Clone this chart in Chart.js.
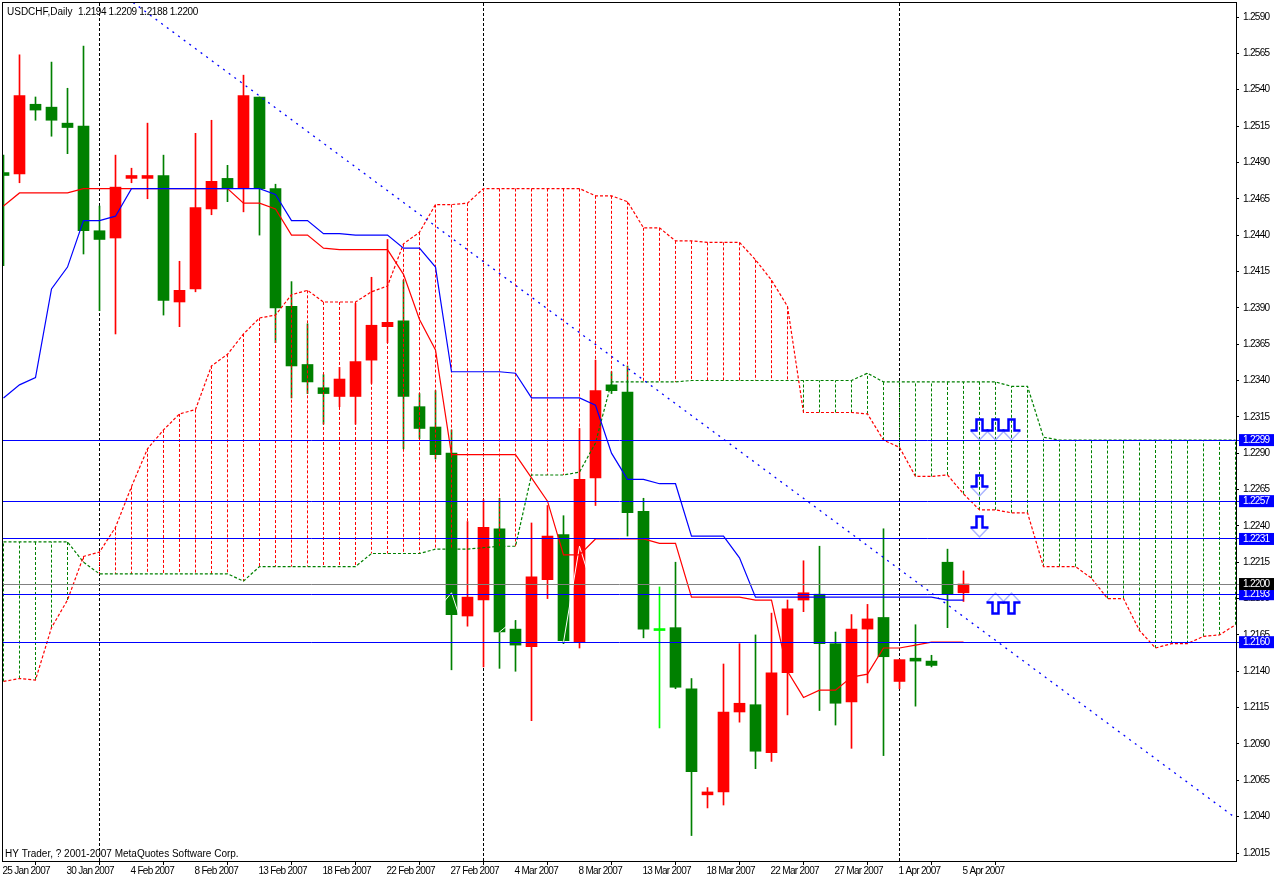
<!DOCTYPE html>
<html>
<head>
<meta charset="utf-8">
<title>USDCHF Daily</title>
<script src="https://cdn.jsdelivr.net/npm/chart.js@4"></script>
<style>
  html, body { margin: 0; background: #fff; }
  canvas { display: block; }
</style>
</head>
<body>
<canvas id="myChart" width="1274" height="878"></canvas>
<script>
// ***** Data *****
const symbolName = 'USDCHF,Daily';
const copyright = 'HY Trader, ? 2001-2007 MetaQuotes Software Corp.';

const dateLabels = ['25 Jan 2007', '30 Jan 2007', '4 Feb 2007', '8 Feb 2007', '13 Feb 2007', '18 Feb 2007', '22 Feb 2007', '27 Feb 2007',
  '4 Mar 2007', '8 Mar 2007', '13 Mar 2007', '18 Mar 2007', '22 Mar 2007', '27 Mar 2007', '1 Apr 2007', '5 Apr 2007'];
const priceTicks = [1.2590, 1.2565, 1.2540, 1.2515, 1.2490, 1.2465, 1.2440, 1.2415, 1.2390, 1.2365, 1.2340, 1.2315,
  1.2290, 1.2265, 1.2240, 1.2215, 1.2190, 1.2165, 1.2140, 1.2115, 1.2090, 1.2065, 1.2040, 1.2015];

const opens = [1.2483, 1.2482, 1.2530, 1.2528, 1.2517, 1.2515, 1.2443, 1.2438, 1.2479, 1.2479, 1.2481, 1.2394, 1.2403, 1.2458, 1.2479, 1.2472,
  1.2535, 1.2472, 1.2391, 1.2351, 1.2335, 1.2329, 1.2329, 1.2354, 1.2377, 1.2381, 1.2322, 1.2308, 1.2290, 1.2178, 1.2189, 1.2238,
  1.2169, 1.2157, 1.2203, 1.2234, 1.2160, 1.2273, 1.2337, 1.2332, 1.2250, 1.2168, 1.2170, 1.2128, 1.2055, 1.2057, 1.2112, 1.2117,
  1.2084, 1.2139, 1.2189, 1.2193, 1.2159, 1.2119, 1.2169, 1.2177, 1.2133, 1.2149, 1.2147, 1.2215, 1.2194];
const highs = [1.2495, 1.2564, 1.2535, 1.2559, 1.2541, 1.2570, 1.2460, 1.2495, 1.2486, 1.2517, 1.2495, 1.2422, 1.2510, 1.2519, 1.2488, 1.2550,
  1.2535, 1.2475, 1.2408, 1.2379, 1.2344, 1.2349, 1.2393, 1.2411, 1.2437, 1.2409, 1.2331, 1.2333, 1.2306, 1.2243, 1.2258, 1.2259,
  1.2175, 1.2242, 1.2254, 1.2247, 1.2307, 1.2354, 1.2346, 1.2350, 1.2259, 1.2198, 1.2215, 1.2135, 1.2060, 1.2145, 1.2159, 1.2165,
  1.2180, 1.2189, 1.2216, 1.2226, 1.2167, 1.2179, 1.2186, 1.2238, 1.2148, 1.2172, 1.2151, 1.2224, 1.2209];
const lows = [1.2419, 1.2476, 1.2519, 1.2508, 1.2496, 1.2427, 1.2388, 1.2372, 1.2476, 1.2465, 1.2385, 1.2377, 1.2401, 1.2454, 1.2463, 1.2456,
  1.2440, 1.2366, 1.2328, 1.2331, 1.2310, 1.2322, 1.2310, 1.2338, 1.2366, 1.2293, 1.2300, 1.2286, 1.2141, 1.2171, 1.2143, 1.2142,
  1.2140, 1.2106, 1.2190, 1.2159, 1.2156, 1.2254, 1.2331, 1.2233, 1.2163, 1.2101, 1.2128, 1.2027, 1.2046, 1.2048, 1.2105, 1.2073,
  1.2078, 1.2110, 1.2181, 1.2113, 1.2103, 1.2087, 1.2132, 1.2082, 1.2128, 1.2116, 1.2143, 1.2170, 1.2188];
const closes = [1.2481, 1.2536, 1.2526, 1.2519, 1.2514, 1.2443, 1.2437, 1.2473, 1.2481, 1.2481, 1.2395, 1.2402, 1.2459, 1.2477, 1.2472, 1.2536,
  1.2472, 1.2390, 1.2350, 1.2339, 1.2331, 1.2341, 1.2353, 1.2378, 1.2380, 1.2329, 1.2307, 1.2289, 1.2179, 1.2191, 1.2239, 1.2167,
  1.2158, 1.2205, 1.2233, 1.2161, 1.2272, 1.2333, 1.2333, 1.2249, 1.2169, 1.2168, 1.2129, 1.2071, 1.2057, 1.2112, 1.2118, 1.2085,
  1.2139, 1.2183, 1.2194, 1.2159, 1.2118, 1.2169, 1.2176, 1.2150, 1.2148, 1.2147, 1.2144, 1.2193, 1.2200];

const tenkan = [1.2460, 1.2469, 1.2469, 1.2469, 1.2469, 1.2472, 1.2472, 1.2472, 1.2472, 1.2472, 1.2472, 1.2472, 1.2472, 1.2472, 1.2472, 1.2462,
  1.2462, 1.2458, 1.2440, 1.2440, 1.2431, 1.2430, 1.2430, 1.2430, 1.2430, 1.2413, 1.2382, 1.2361, 1.2289, 1.2289, 1.2289, 1.2289,
  1.2289, 1.2273, 1.2257, 1.2220, 1.2220, 1.2231, 1.2231, 1.2231, 1.2231, 1.2228, 1.2228, 1.2191, 1.2191, 1.2191, 1.2191, 1.2189,
  1.2189, 1.2140, 1.2122, 1.2127, 1.2127, 1.2136, 1.2138, 1.2156, 1.2156, 1.2158, 1.2160, 1.2160, 1.2160];
const kijun = [1.2328, 1.2337, 1.2342, 1.2403, 1.2418, 1.2450, 1.2450, 1.2453, 1.2472, 1.2472, 1.2472, 1.2472, 1.2472, 1.2472, 1.2472, 1.2472,
  1.2472, 1.2468, 1.2450, 1.2450, 1.2441, 1.2441, 1.2440, 1.2440, 1.2440, 1.2431, 1.2431, 1.2418, 1.2346, 1.2346, 1.2346, 1.2346,
  1.2345, 1.2328, 1.2328, 1.2328, 1.2328, 1.2323, 1.2290, 1.2272, 1.2272, 1.2269, 1.2269, 1.2233, 1.2233, 1.2233, 1.2218, 1.2191,
  1.2191, 1.2191, 1.2191, 1.2191, 1.2191, 1.2191, 1.2191, 1.2191, 1.2191, 1.2191, 1.2191, 1.2189, 1.2189];
const spanA = [1.2133, 1.2135, 1.2134, 1.2170, 1.2189, 1.2219, 1.2222, 1.2239, 1.2267, 1.2293, 1.2306, 1.2317, 1.2320, 1.2350, 1.2358, 1.2372,
  1.2383, 1.2385, 1.2399, 1.2402, 1.2394, 1.2394, 1.2394, 1.2401, 1.2405, 1.2434, 1.2442, 1.2461, 1.2461, 1.2462, 1.2472, 1.2472,
  1.2472, 1.2472, 1.2472, 1.2472, 1.2472, 1.2467, 1.2467, 1.2463, 1.2445, 1.2445, 1.2436, 1.2436, 1.2435, 1.2435, 1.2435, 1.2423,
  1.2409, 1.2391, 1.2318, 1.2318, 1.2318, 1.2318, 1.2317, 1.2299, 1.2294, 1.2274, 1.2274, 1.2275, 1.2262, 1.2251, 1.2251, 1.2249,
  1.2249, 1.2212, 1.2212, 1.2212, 1.2204, 1.2190, 1.2190, 1.2168, 1.2156, 1.2159, 1.2159, 1.2164, 1.2165, 1.2172];
const spanB = [1.2229, 1.2229, 1.2229, 1.2229, 1.2229, 1.2215, 1.2207, 1.2207, 1.2207, 1.2207, 1.2207, 1.2207, 1.2207, 1.2207, 1.2207, 1.2202,
  1.2212, 1.2212, 1.2212, 1.2212, 1.2212, 1.2212, 1.2212, 1.2221, 1.2221, 1.2221, 1.2221, 1.2224, 1.2224, 1.2224, 1.2225, 1.2226,
  1.2226, 1.2275, 1.2275, 1.2275, 1.2277, 1.2297, 1.2339, 1.2339, 1.2339, 1.2339, 1.2339, 1.2340, 1.2340, 1.2340, 1.2340, 1.2340,
  1.2340, 1.2340, 1.2340, 1.2340, 1.2340, 1.2340, 1.2345, 1.2339, 1.2339, 1.2339, 1.2339, 1.2339, 1.2339, 1.2339, 1.2339, 1.2336,
  1.2336, 1.2301, 1.2299, 1.2299, 1.2299, 1.2299, 1.2299, 1.2299, 1.2299, 1.2299, 1.2299, 1.2299, 1.2299, 1.2299];

// chikou line, white, only shows where it crosses a candle body
const chikou = [null, null, null, null, null, null, null, null, null, null, null, null, null, null, null, null,
  null, null, null, null, null, null, null, null, null, null, null, 1.2181, 1.2194, 1.2161, null, 1.2167,
  1.2176, null, null, 1.2160, 1.2226, 1.2191];

const levelPrices = [1.2299, 1.2257, 1.2231, 1.2160, 1.2193];
const bidPrice = 1.2200;
const separatorBars = [6, 30, 56];
const trendBars = [8.1, 76.9];
const trendPrices = [1.2600, 1.2040];
const pulseUpBars = [61, 62, 63, 61, 61];
const pulseUpPrices = [1.2299, 1.2299, 1.2299, 1.2260, 1.2232];
const pulseDownBars = [62, 63];
const pulseDownPrices = [1.2194, 1.2194];
// ***** Data end *****

const RED = '#ff0000';
const GREEN = '#008000';
const BLUE = '#0000ff';
const LIME = '#00ff00';
const GRAY = '#808080';
const FONT = { family: '"Liberation Sans", Arial, sans-serif', size: 10 };
const Y_MIN = 1.200950;
const Y_MAX = 1.260033;

const candleColor = (i) => {
  if (closes[i] > opens[i]) return RED;
  if (closes[i] < opens[i]) return GREEN;
  return LIME;
};

const toPoints = (values) => values.map((v, i) => ({ x: i, y: v }));

// one break-separated path of vertical strokes
const hatchPoints = (test) => {
  const points = [];
  spanA.forEach((a, i) => {
    if (test(a, spanB[i])) points.push({ x: i, y: a }, { x: i, y: spanB[i] }, { x: i, y: null });
  });
  return points;
};

const lineSet = (data, color, order, dash, width) => ({
  type: 'line',
  data,
  order,
  borderColor: color,
  borderWidth: width || 1,
  borderDash: dash || [],
  pointRadius: 0,
  tension: 0,
  spanGaps: false
});

// the pulse + chevron arrow object, tip sits at the centre of the sprite
const makePulse = (flip) => {
  const c = document.createElement('canvas');
  c.width = 21;
  c.height = 47;
  const g = c.getContext('2d');
  g.translate(10.5, 23.5);
  if (flip) g.scale(1, -1);
  g.strokeStyle = '#aab4ff';
  g.lineWidth = 1.5;
  g.beginPath();
  g.moveTo(-8.5, -9.5);
  g.lineTo(0, -0.5);
  g.lineTo(8.5, -9.5);
  g.stroke();
  g.strokeStyle = BLUE;
  g.lineWidth = 2.5;
  g.beginPath();
  g.moveTo(-9, -10);
  g.lineTo(-3, -10);
  g.lineTo(-3, -21);
  g.lineTo(3, -21);
  g.lineTo(3, -10);
  g.lineTo(9, -10);
  g.stroke();
  return c;
};

const pulseSet = (bars, prices, sprite) => ({
  type: 'line',
  data: bars.map((b, i) => ({ x: b, y: prices[i] })),
  order: 1,
  showLine: false,
  pointStyle: sprite,
  pointRadius: 5,
  clip: false
});

const bars = opens.map((_, i) => i);

const datasets = [
  pulseSet(pulseUpBars, pulseUpPrices, makePulse(false)),
  pulseSet(pulseDownBars, pulseDownPrices, makePulse(true)),
  lineSet(trendBars.map((b, i) => ({ x: b, y: trendPrices[i] })), BLUE, 3, [2, 5], 1.3),
  lineSet(toPoints(tenkan), RED, 3, null, 1.2),
  lineSet(toPoints(kijun), BLUE, 2, null, 1.2),
  lineSet(toPoints(chikou), '#ffffff', 4),
  lineSet(toPoints(spanA), RED, 5, [3, 2], 1.2),
  lineSet(toPoints(spanB), GREEN, 5, [3, 2], 1.2),
  lineSet(hatchPoints((a, b) => a > b), RED, 6, [3, 2]),
  lineSet(hatchPoints((a, b) => a <= b), GREEN, 6, [3, 2]),
  {
    type: 'bar',
    data: bars.map((i) => ({ x: i, y: [opens[i], closes[i]] })),
    order: 8,
    grouped: false,
    barThickness: 11,
    minBarLength: 2,
    borderWidth: 0,
    backgroundColor: bars.map(candleColor)
  },
  {
    type: 'bar',
    data: bars.map((i) => ({ x: i, y: [lows[i], highs[i]] })),
    order: 9,
    grouped: false,
    barThickness: 1,
    borderWidth: 0,
    backgroundColor: bars.map(candleColor)
  },
  lineSet(separatorBars.flatMap((b) => [{ x: b, y: Y_MIN }, { x: b, y: Y_MAX }, { x: b, y: null }]), '#000000', 10, [3, 2])
];

const isLevel = (v) => levelPrices.includes(v);
const isBid = (v) => v === bidPrice;

// frame and the two text lines sitting inside the plot
const chartText = {
  id: 'chartText',
  beforeDraw(chart) {
    chart.ctx.imageSmoothingEnabled = false;
    chart.ctx.letterSpacing = '-0.7px';
  },
  afterDraw(chart) {
    const { ctx, chartArea: a } = chart;
    const last = opens.length - 1;
    const ohlc = [opens[last], highs[last], lows[last], closes[last]].map((v) => v.toFixed(4)).join(' ');
    ctx.save();
    ctx.strokeStyle = '#000';
    ctx.lineWidth = 1;
    ctx.strokeRect(a.left - 0.5, a.top + 0.5, a.right - a.left + 1, a.bottom - a.top);
    ctx.fillStyle = '#000';
    ctx.font = FONT.size + 'px ' + FONT.family;
    ctx.textBaseline = 'middle';
    ctx.letterSpacing = '0px';
    ctx.fillText(symbolName, a.left + 4, a.top + 10);
    ctx.fillText(copyright, a.left + 2, a.bottom - 7);
    ctx.letterSpacing = '-0.4px';
    ctx.fillText(ohlc, a.left + 75, a.top + 10);
    ctx.restore();
  }
};

const salesChart = new Chart(document.getElementById('myChart'), {
  type: 'line',
  data: { datasets },
  plugins: [chartText],
  options: {
    responsive: false,
    animation: false,
    events: [],
    layout: { autoPadding: false, padding: { left: 3, top: 2, right: 0, bottom: 0 } },
    plugins: { legend: { display: false }, tooltip: { enabled: false } },
    scales: {
      x: {
        type: 'linear',
        offset: false,
        min: -0.03125,
        max: 77.03125,
        afterFit: (s) => {
          s.height = 17;
          s.paddingLeft = 0;
          s.paddingRight = 0;
        },
        afterBuildTicks: (s) => { s.ticks = dateLabels.map((_, i) => ({ value: i * 4 })); },
        border: { display: false },
        grid: { drawOnChartArea: false, color: '#000', tickLength: 4 },
        ticks: {
          autoSkip: false,
          maxRotation: 0,
          minRotation: 0,
          align: 'start',
          labelOffset: -1,
          padding: 0,
          color: '#000',
          font: FONT,
          callback: (v) => dateLabels[v / 4]
        }
      },
      y: {
        type: 'linear',
        position: 'right',
        beginAtZero: false,
        min: Y_MIN,
        max: Y_MAX,
        afterFit: (s) => {
          s.width = 38;
          s.paddingTop = 0;
          s.paddingBottom = 0;
        },
        afterBuildTicks: (s) => {
          s.ticks = [...priceTicks, ...levelPrices, bidPrice].map((v) => ({ value: v }));
        },
        border: { display: false },
        grid: {
          z: 1,
          tickLength: 3,
          color: (c) => (isLevel(c.tick.value) ? BLUE : isBid(c.tick.value) ? GRAY : 'rgba(0,0,0,0)'),
          tickColor: (c) => (isLevel(c.tick.value) ? BLUE : isBid(c.tick.value) ? GRAY : '#000')
        },
        ticks: {
          autoSkip: false,
          padding: 4,
          font: FONT,
          color: (c) => (isLevel(c.tick.value) || isBid(c.tick.value) ? '#fff' : '#000'),
          showLabelBackdrop: (c) => isLevel(c.tick.value) || isBid(c.tick.value),
          backdropColor: (c) => (isBid(c.tick.value) ? '#000' : BLUE),
          backdropPadding: { left: 4, right: 4, top: 0, bottom: 0 },
          callback: (v) => v.toFixed(4)
        }
      }
    }
  }
});
</script>
</body>
</html>
